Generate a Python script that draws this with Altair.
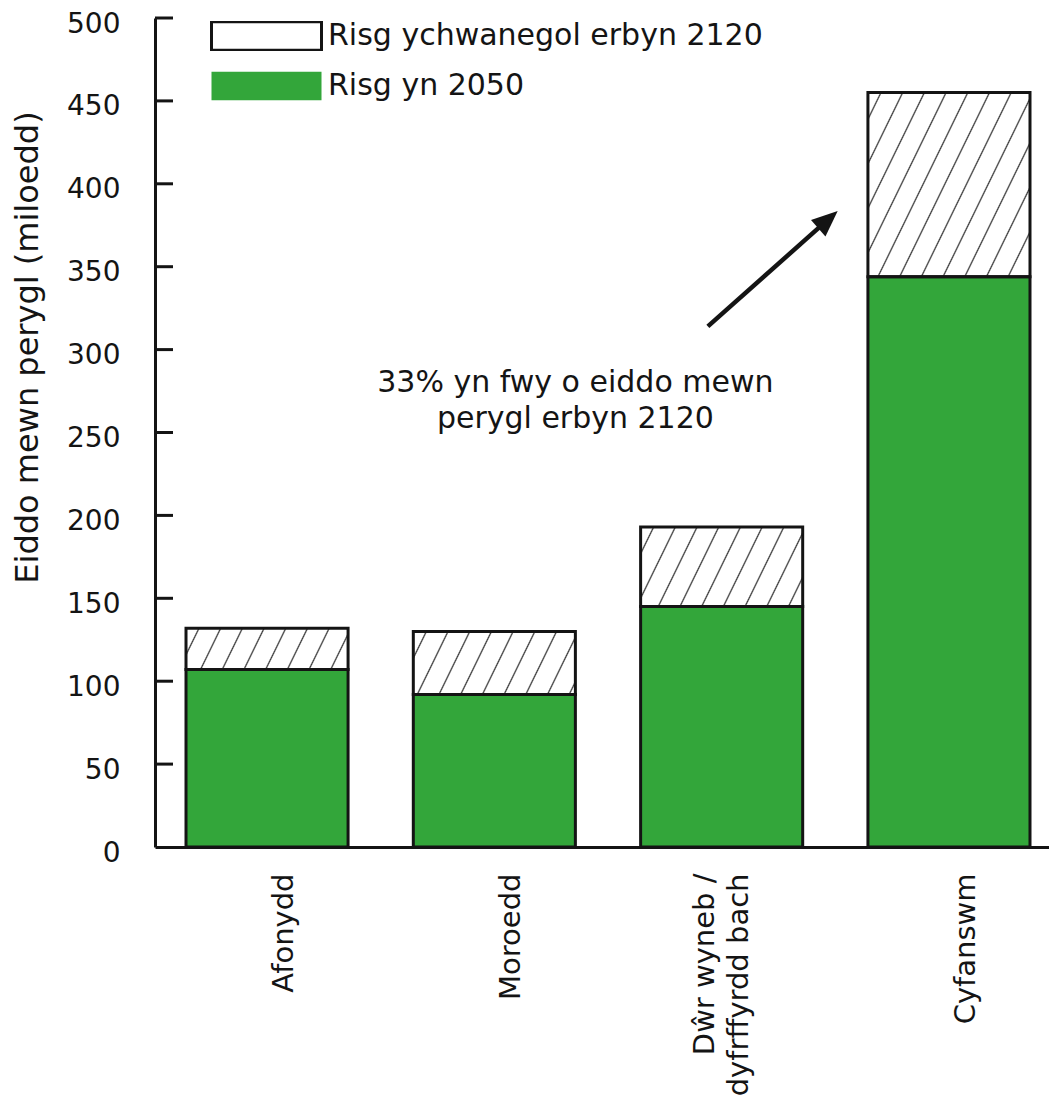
import math
import altair as alt
import pandas as pd

# ---------------- data ----------------
categories = ["Afonydd", "Moroedd", "Dŵr wyneb / dyfrffyrdd bach", "Cyfanswm"]
risk_2050 = [107, 92, 145, 344]            # green segment (thousands)
risk_2120_total = [132, 130, 193, 455]     # top of hatched segment (thousands)
series_labels = ["Risg ychwanegol erbyn 2120", "Risg yn 2050"]
y_tick_values = [50, 100, 150, 200, 250, 300, 350, 400, 450, 500]
y_label_values = [0, 50, 100, 150, 200, 250, 300, 350, 400, 450, 500]
y_title = "Eiddo mewn perygl (miloedd)"
annotation_text = "33% yn fwy o eiddo mewn\nperygl erbyn 2120"
# annotation anchor (in data units): text centre and arrow tail / tip heights
annotation_y = [280]
arrow_tail_y = [314]
arrow_shaft_end_y = [377.6]
arrow_tip_y = [383.6]

# ---------------- styling ----------------
FONT = "DejaVu Sans"
GREEN = "#33a63a"
INK = "#141414"
PLOT_W, PLOT_H = 894, 829
PAD_INNER, PAD_OUTER, BAND_ALIGN = 0.287, 0.11, 0.62
Y_MAX = 500

step = PLOT_W / (len(categories) - PAD_INNER + 2 * PAD_OUTER)
bandwidth = step * (1 - PAD_INNER)


def hatch_gradient(h_px, w_px, theta_deg=64.0, period=21.7, lw=1.4, color="#3a3a3a"):
    """Linear gradient with hard thin stripes that looks like a '/' hatch."""
    th = math.radians(theta_deg)
    gx = math.sin(th) / h_px
    gy = math.cos(th) / w_px
    k = (gx + gy) / (gx * gx + gy * gy)
    ratio = gx / (gx + gy)
    T = period / w_px * ratio
    L = lw / w_px * ratio
    stops = [{"offset": 0, "color": "white"}]
    t = T * 0.6
    while t < 1:
        stops.append({"offset": round(max(0.0, t - L), 5), "color": "white"})
        stops.append({"offset": round(t, 5), "color": color})
        stops.append({"offset": round(min(1.0, t + L), 5), "color": "white"})
        t += T
    stops.append({"offset": 1, "color": "white"})
    return {"gradient": "linear", "x1": 0, "y1": 0, "x2": k * gx, "y2": k * gy, "stops": stops}


# ---------------- tables ----------------
bars = pd.DataFrame({
    "cat": categories,
    "base": risk_2050,
    "total": risk_2120_total,
    "series": series_labels[1],
})
segments = pd.DataFrame({
    "cat": categories + categories,
    "lo": [0] * len(categories) + risk_2050,
    "hi": risk_2050 + risk_2120_total,
})
ticks_df = pd.DataFrame({"v": y_tick_values})
arrow_df = pd.DataFrame({
    "cat": [categories[2]],
    "y0": arrow_tail_y,
    "y1": arrow_shaft_end_y,
    "yt": arrow_tip_y,
})
note_df = pd.DataFrame({"cat": [categories[1]], "y": annotation_y, "text": [annotation_text]})

# ---------------- scales / axes ----------------
xscale = alt.Scale(domain=categories, paddingInner=PAD_INNER, paddingOuter=PAD_OUTER, align=BAND_ALIGN)
yscale = alt.Scale(domain=[0, Y_MAX], nice=False, zero=True)

two_line = categories[2]
x_axis = alt.Axis(
    title=None, labelAngle=270, labelAlign="right", labelBaseline="middle",
    labelFont=FONT, labelFontSize=29, labelColor=INK, labelPadding=26,
    labelLineHeight=34, labelOffset=-17, labelLimit=0, labelOverlap=False, labelBound=False,
    labelExpr=f"datum.value == '{two_line}' ? ['Dŵr wyneb /', 'dyfrffyrdd bach'] : ['', datum.label]",
    ticks=False, grid=False, domainColor=INK, domainWidth=3,
)
y_axis = alt.Axis(
    title=y_title, titleFont=FONT, titleFontSize=32, titleFontWeight="normal",
    titleColor=INK, titleAngle=270, titleX=-128, titleY=329,
    titleAlign="center", titleBaseline="middle",
    values=y_label_values, labelFont=FONT, labelFontSize=28, labelColor=INK,
    labelPadding=35, labelOffset=6, labelBaseline="middle", labelFlush=False,
    ticks=False, grid=False, domainColor=INK, domainWidth=3,
)


def X(band=None):
    if band is None:
        return alt.X("cat:N", sort=categories, scale=xscale, axis=x_axis)
    return alt.X("cat:N", sort=categories, scale=xscale, axis=x_axis, bandPosition=band)


def Y(field):
    return alt.Y(field, scale=yscale, axis=y_axis)


legend_kw = dict(title=None)

# green 2050 bars (also the legend source)
green = alt.Chart(bars).mark_bar().encode(
    x=X(),
    y=Y("base:Q"),
    color=alt.Color("series:N", scale=alt.Scale(domain=series_labels, range=["white", GREEN]),
                    legend=alt.Legend(**legend_kw)),
    stroke=alt.Stroke("series:N", scale=alt.Scale(domain=series_labels, range=[INK, GREEN]),
                      legend=alt.Legend(**legend_kw)),
    strokeWidth=alt.StrokeWidth("series:N", scale=alt.Scale(type="ordinal", domain=series_labels, range=[3, 0]),
                                legend=alt.Legend(**legend_kw)),
)

# hatched additional-risk segments, one layer per bar (hatch drawn with striped gradient)
hatched = []
for c, b, t in zip(categories, risk_2050, risk_2120_total):
    h_px = (t - b) * PLOT_H / Y_MAX
    hatched.append(
        alt.Chart(bars).transform_filter(alt.datum.cat == c)
        .mark_bar(fill=hatch_gradient(h_px, bandwidth))
        .encode(x=X(), y=Y("total:Q"), y2="base:Q")
    )

outline = alt.Chart(segments).mark_bar(fillOpacity=0, stroke=INK, strokeWidth=3).encode(
    x=X(), y=Y("hi:Q"), y2="lo:Q"
)

inner_ticks = alt.Chart(ticks_df).mark_rule(color=INK, strokeWidth=3).encode(
    y=Y("v:Q"), x=alt.value(0), x2=alt.value(18)
)

# arrow: tail inside the 3rd band, tip in the gap before the last bar
arrow_shaft = alt.Chart(arrow_df).mark_rule(color=INK, strokeWidth=4.5, x2Offset=0.147 * bandwidth).encode(
    x=X(band=0.415),
    x2=alt.X2("cat", bandPosition=1.0),
    y=Y("y0:Q"),
    y2="y1:Q",
)
arrow_head = alt.Chart(arrow_df).mark_point(
    shape="M0,0L-0.42,1L0.42,1Z", size=2704, angle=48.5, filled=True, color=INK, opacity=1,
    xOffset=0.216 * bandwidth,
).encode(x=X(band=1.0), y=Y("yt:Q"))

note = alt.Chart(note_df).mark_text(
    font=FONT, fontSize=30, color=INK, align="center", baseline="middle", lineBreak="\n", lineHeight=36
).encode(x=X(band=1.0), y=Y("y:Q"), text="text:N")

chart = alt.layer(green, *hatched, outline, inner_ticks, arrow_shaft, arrow_head, note).properties(
    width=PLOT_W, height=PLOT_H,
    autosize=alt.AutoSizeParams(type="none"),
    padding={"left": 147, "top": 10, "right": 0, "bottom": 251},
).configure_view(stroke=None).configure_legend(
    orient="none", legendX=55, legendY=3, padding=0,
    symbolType="M-1,-0.26H1V0.26H-1Z", symbolSize=12100,
    clipHeight=30, rowPadding=20, labelOffset=5,
    labelFont=FONT, labelFontSize=30, labelColor=INK, labelLimit=700,
)

chart.save("out.html", embed_options={"renderer": "svg", "actions": False})
